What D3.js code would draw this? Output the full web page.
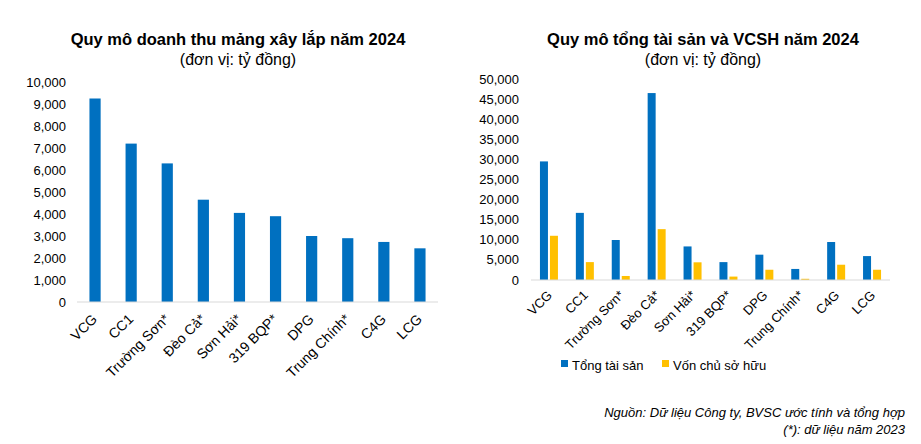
<!DOCTYPE html>
<html>
<head>
<meta charset="utf-8">
<script src="https://cdn.jsdelivr.net/npm/d3@7"></script>
<style>
  body { margin: 0; background: #fff; }
  svg text { font-family: "Liberation Sans", Arial, sans-serif; fill: #000; }
</style>
</head>
<body>
<div id="chart"></div>
<script>
const width = 921;
const height = 444;

// Dữ liệu
const congTy = ["VCG", "CC1", "Trường Sơn*", "Đèo Cả*", "Sơn Hải*", "319 BQP*", "DPG", "Trung Chính*", "C4G", "LCG"];
const doanhThu = [9250, 7200, 6300, 4650, 4050, 3900, 3000, 2900, 2730, 2440];
const tongTaiSan = [29500, 16700, 9950, 46500, 8350, 4450, 6300, 2750, 9450, 5950];
const vonChuSoHuu = [11000, 4450, 1000, 12650, 4400, 850, 2550, 300, 3800, 2550];
const ticksTrai = [0, 1000, 2000, 3000, 4000, 5000, 6000, 7000, 8000, 9000, 10000];
const ticksPhai = [0, 5000, 10000, 15000, 20000, 25000, 30000, 35000, 40000, 45000, 50000];

const xanh = "#0070C0";
const vang = "#FFC000";
const fmt = d3.format(",");

const svg = d3.select("#chart")
  .append("svg")
  .attr("width", width)
  .attr("height", height);

// ===== Biểu đồ trái =====
const x1 = d3.scaleBand().domain(congTy).range([77, 438]).paddingInner(0.69).paddingOuter(0.345);
const y1 = d3.scaleLinear().domain([0, 10000]).range([302, 82]);

svg.append("text")
  .attr("x", 238).attr("y", 45)
  .attr("text-anchor", "middle")
  .style("font-weight", "bold").style("font-size", "16.5px")
  .text("Quy mô doanh thu mảng xây lắp năm 2024");
svg.append("text")
  .attr("x", 238).attr("y", 65)
  .attr("text-anchor", "middle")
  .style("font-size", "16px")
  .text("(đơn vị: tỷ đồng)");

svg.append("g")
  .selectAll("text")
  .data(ticksTrai)
  .join("text")
  .attr("x", 66)
  .attr("y", d => y1(d))
  .attr("dy", "0.35em")
  .attr("text-anchor", "end")
  .style("font-size", "13px")
  .text(d => fmt(d));

svg.append("g")
  .selectAll("rect")
  .data(doanhThu)
  .join("rect")
  .attr("x", (d, i) => x1(congTy[i]))
  .attr("width", x1.bandwidth())
  .attr("y", d => y1(d))
  .attr("height", d => y1(0) - y1(d))
  .attr("fill", xanh);

svg.append("line")
  .attr("x1", 77).attr("x2", 438)
  .attr("y1", y1(0)).attr("y2", y1(0))
  .attr("stroke", "#d9d9d9");

svg.append("g")
  .selectAll("text")
  .data(congTy)
  .join("text")
  .attr("text-anchor", "end")
  .style("font-size", "14px")
  .attr("transform", d => `translate(${x1(d) + x1.bandwidth() / 2 + 3},${y1(0) + 18}) rotate(-45)`)
  .text(d => d);

// ===== Biểu đồ phải =====
const x2 = d3.scaleBand().domain(congTy).range([531, 890]);
const y2 = d3.scaleLinear().domain([0, 50000]).range([280, 79]);
const barW = 8;

svg.append("text")
  .attr("x", 703).attr("y", 45)
  .attr("text-anchor", "middle")
  .style("font-weight", "bold").style("font-size", "16.5px")
  .text("Quy mô tổng tài sản và VCSH năm 2024");
svg.append("text")
  .attr("x", 703).attr("y", 65)
  .attr("text-anchor", "middle")
  .style("font-size", "16px")
  .text("(đơn vị: tỷ đồng)");

svg.append("g")
  .selectAll("text")
  .data(ticksPhai)
  .join("text")
  .attr("x", 519)
  .attr("y", d => y2(d))
  .attr("dy", "0.35em")
  .attr("text-anchor", "end")
  .style("font-size", "13px")
  .text(d => fmt(d));

svg.append("g")
  .selectAll("rect")
  .data(tongTaiSan)
  .join("rect")
  .attr("x", (d, i) => x2(congTy[i]) + x2.bandwidth() / 2 - barW - 1)
  .attr("width", barW)
  .attr("y", d => y2(d))
  .attr("height", d => y2(0) - y2(d))
  .attr("fill", xanh);

svg.append("g")
  .selectAll("rect")
  .data(vonChuSoHuu)
  .join("rect")
  .attr("x", (d, i) => x2(congTy[i]) + x2.bandwidth() / 2 + 1)
  .attr("width", barW)
  .attr("y", d => y2(d))
  .attr("height", d => y2(0) - y2(d))
  .attr("fill", vang);

svg.append("line")
  .attr("x1", 531).attr("x2", 890)
  .attr("y1", y2(0)).attr("y2", y2(0))
  .attr("stroke", "#d9d9d9");

svg.append("g")
  .selectAll("text")
  .data(congTy)
  .join("text")
  .attr("text-anchor", "end")
  .style("font-size", "13px")
  .attr("transform", d => `translate(${x2(d) + x2.bandwidth() / 2 + 4},${y2(0) + 16}) rotate(-45)`)
  .text(d => d);

// Chú giải
const chuGiai = [["Tổng tài sản", xanh, 561], ["Vốn chủ sở hữu", vang, 662]];
chuGiai.forEach(([ten, mau, x]) => {
  svg.append("rect").attr("x", x).attr("y", 360).attr("width", 7).attr("height", 7).attr("fill", mau);
  svg.append("text").attr("x", x + 11).attr("y", 369.5).style("font-size", "13px").text(ten);
});

// Nguồn
svg.append("text")
  .attr("x", 905).attr("y", 417)
  .attr("text-anchor", "end")
  .style("font-style", "italic").style("font-size", "13px")
  .text("Nguồn: Dữ liệu Công ty, BVSC ước tính và tổng hợp");
svg.append("text")
  .attr("x", 905).attr("y", 434)
  .attr("text-anchor", "end")
  .style("font-style", "italic").style("font-size", "13px")
  .text("(*): dữ liệu năm 2023");
</script>
</body>
</html>
